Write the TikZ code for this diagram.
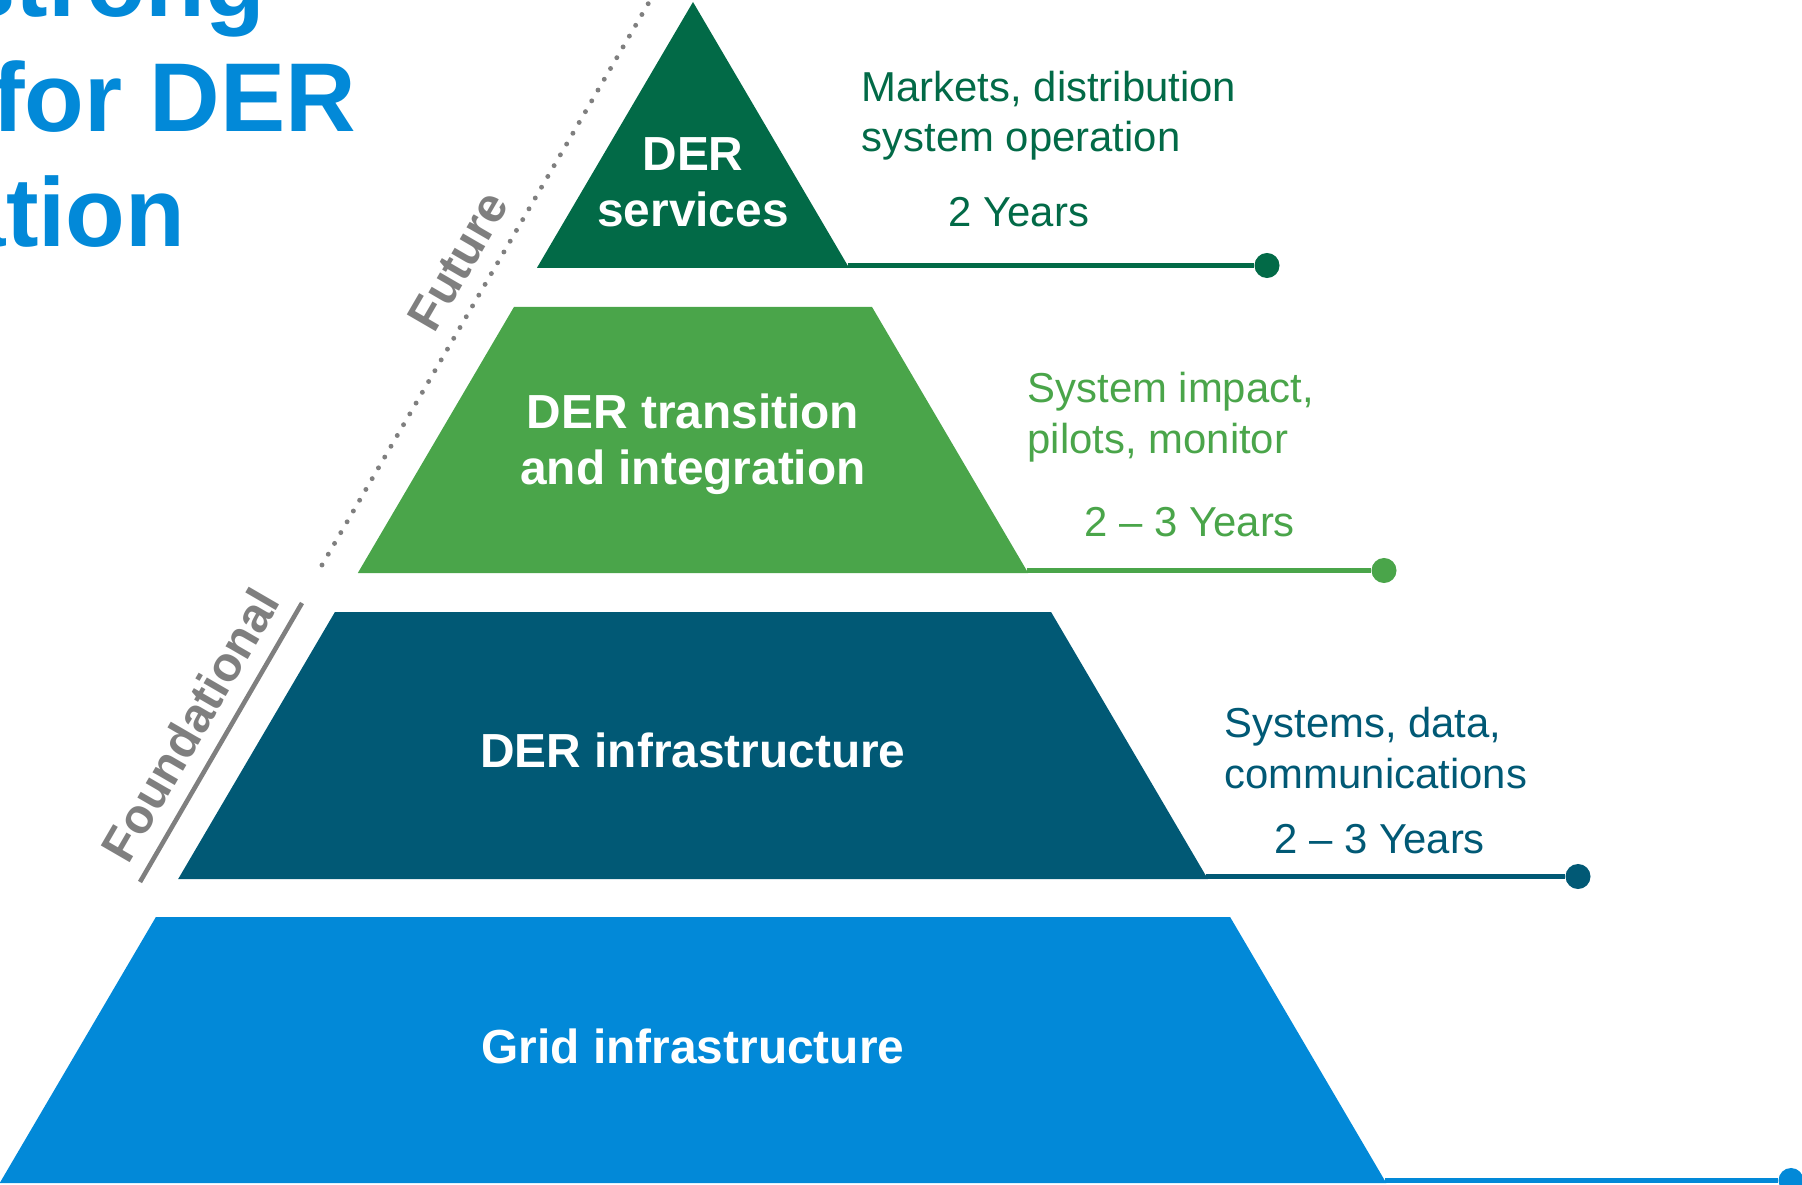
\documentclass[tikz,border=0pt]{standalone}
\usepackage{fontspec}
\setmainfont{Liberation Sans}

\definecolor{servgreen}{RGB}{2,106,71}
\definecolor{transgreen}{RGB}{74,165,74}
\definecolor{infrapetrol}{RGB}{1,89,117}
\definecolor{gridblue}{RGB}{2,137,216}
\definecolor{sidegray}{RGB}{127,127,127}

\tikzset{
  layertext/.style={text=white, font=\bfseries\fontsize{13.6}{16.2}\selectfont,
    align=center, inner sep=0pt, anchor=base},
  sidetext/.style={font=\fontsize{11.9}{14.5}\selectfont, align=left,
    inner sep=0pt, anchor=base west},
  enddot/.style={circle, inner sep=0pt, minimum size=0.25cm},
  axislabel/.style={text=sidegray, font=\bfseries\fontsize{13.8}{16}\selectfont,
    midway, sloped, above, inner sep=4.4pt}
}

\begin{document}
\begin{tikzpicture}[x=0.01cm, y=-0.01cm]
    \def \apex {693}
    \def \slope {0.587} % run of the pyramid sides per unit of height
    \useasboundingbox (0,0) rectangle (1802,1185);
    \clip (0,0) rectangle (1802,1185);

    % heading, runs off the left edge
    \foreach \txt/\xe/\yb [count=\i] in {strong/266/17, for DER/357/132, ation/186/247}
      \node[anchor=base east, inner sep=0pt, text=gridblue,
        font=\bfseries\fontsize{27.8}{33}\selectfont] (title\i) at (\xe,\yb) {\txt};

    % pyramid layers, each with a rule out to a dot
    \foreach \ytop/\ybot/\col/\dx [count=\i] in
      {2/268/servgreen/1267, 307/573/transgreen/1384,
       612/879/infrapetrol/1578, 917/1183/gridblue/1791}
    {
      \fill[\col] ({\apex-\slope*(\ytop-2)},\ytop) -- ({\apex+\slope*(\ytop-2)},\ytop)
        -- ({\apex+\slope*(\ybot-2)},\ybot) -- ({\apex-\slope*(\ybot-2)},\ybot) -- cycle;
      \coordinate (corner\i) at ({\apex+\slope*(\ybot-4.5)},\ybot-2.5);
      \node[enddot, fill=\col] (dot\i) at (\dx,\ybot-2.5) {};
      \draw[\col, line width=1.42pt] (corner\i) -- (dot\i);
    }

    % base anchor sits on the last line
    \node[layertext] (services) at (\apex,227) {DER\\services};
    \node[layertext] (transition) at (\apex,485) {DER transition\\and integration};
    \node[layertext] (derinfra) at (\apex,767) {DER infrastructure};
    \node[layertext] (gridinfra) at (\apex,1063) {Grid infrastructure};

    % notes beside the layers
    \node[sidetext, text=servgreen] (marketsnote) at (861,152) {Markets, distribution\\system operation};
    \node[sidetext, text=servgreen] (years1) at (948,227) {2 Years};
    \node[sidetext, text=transgreen] (impactnote) at (1027,453) {System impact,\\pilots, monitor};
    \node[sidetext, text=transgreen] (years2) at (1084,537) {2 – 3 Years};
    \node[sidetext, text=infrapetrol] (datanote) at (1224,788) {Systems, data,\\communications};
    \node[sidetext, text=infrapetrol] (years3) at (1274,853) {2 – 3 Years};

    % guides along the left side
    \coordinate (futlow) at (322,565);
    \coordinate (futhigh) at (655,-8);
    \draw[sidegray, line width=1.4pt, line cap=round, dash pattern=on 0pt off 3.55pt]
      (futlow) -- node[axislabel] (future) {Future} (futhigh);
    \coordinate (fndlow) at (140,882);
    \coordinate (fndhigh) at (302,603);
    \draw[sidegray, line width=1.3pt]
      (fndlow) -- node[axislabel] (foundational) {Foundational} (fndhigh);
\end{tikzpicture}
\end{document}
